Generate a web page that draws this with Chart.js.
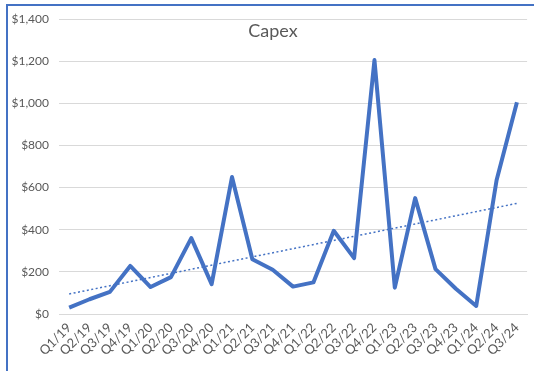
<!DOCTYPE html>
<html>
<head>
<meta charset="utf-8">
<script src="https://cdn.jsdelivr.net/npm/chart.js@4"></script>
<style>
  html, body { margin: 0; padding: 0; background: #fff; }
  #wrap { position: relative; width: 534px; height: 371px; }
  #frame {
    position: absolute; left: 6px; top: 4px; right: 0; bottom: 0;
    border-left: 2.5px solid #4472C4; border-top: 2.5px solid #4472C4;
    pointer-events: none;
  }
</style>
</head>
<body>
<div id="wrap">
  <canvas id="chartCapex" width="534" height="371"></canvas>
  <div id="frame"></div>
</div>
<script>
// datos
const quarters = [
  "Q1/19", "Q2/19", "Q3/19", "Q4/19",
  "Q1/20", "Q2/20", "Q3/20", "Q4/20",
  "Q1/21", "Q2/21", "Q3/21", "Q4/21",
  "Q1/22", "Q2/22", "Q3/22", "Q4/22",
  "Q1/23", "Q2/23", "Q3/23", "Q4/23",
  "Q1/24", "Q2/24", "Q3/24",
];
const capex = [
  30, 70, 105, 228,
  128, 175, 360, 142,
  650, 260, 210, 130,
  150, 395, 265, 1205,
  125, 550, 213, 120,
  38, 635, 1005,
];
const trendEnds = [95, 525];
const yTicks = [0, 200, 400, 600, 800, 1000, 1200, 1400];

const trend = quarters.map((_, i) =>
  i === 0 ? trendEnds[0] : i === quarters.length - 1 ? trendEnds[1] : null
);

const FONT = "Lato, 'Liberation Sans', sans-serif";
const GRAY = "#595959";
const BLUE = "#4472C4";

// titulo dentro del area del grafico (como Excel)
const titlePlugin = {
  id: "innerTitle",
  beforeDatasetsDraw(chart) {
    const { ctx } = chart;
    ctx.save();
    ctx.font = `18px ${FONT}`;
    ctx.fillStyle = GRAY;
    ctx.textAlign = "center";
    ctx.textBaseline = "middle";
    ctx.fillText("Capex", 273, 31);
    ctx.restore();
  },
};

new Chart(document.getElementById("chartCapex"), {
  type: "line",
  data: {
    labels: quarters,
    datasets: [
      {
        label: "Capex",
        data: capex,
        borderColor: BLUE,
        borderWidth: 4,
        pointRadius: 0,
        tension: 0,
        borderJoinStyle: "round",
      },
      {
        label: "Linear (Capex)",
        data: trend,
        spanGaps: true,
        borderColor: BLUE,
        borderWidth: 1.5,
        borderDash: [2, 2.5],
        pointRadius: 0,
      },
    ],
  },
  options: {
    responsive: false,
    animation: false,
    layout: { padding: { top: 19, right: 2, left: 0, bottom: 0 } },
    plugins: {
      legend: { display: false },
      title: { display: false },
      tooltip: { enabled: false },
    },
    scales: {
      x: {
        offset: true,
        grid: { display: false, drawTicks: false },
        border: { color: "#d9d9d9" },
        ticks: {
          color: GRAY,
          font: { family: FONT, size: 13 },
          minRotation: 45,
          maxRotation: 45,
          autoSkip: false,
          padding: 6,
        },
        afterFit: (s) => { s.height = 57; },
      },
      y: {
        min: 0,
        max: 1400,
        afterBuildTicks: (s) => { s.ticks = yTicks.map((v) => ({ value: v })); },
        grid: { color: "#d9d9d9", drawTicks: false },
        border: { display: false },
        ticks: {
          color: GRAY,
          font: { family: FONT, size: 12 },
          padding: 10,
          callback: (v) => "$" + Number(v).toLocaleString("en-US"),
        },
        afterFit: (s) => { s.width = 59; },
      },
    },
  },
  plugins: [titlePlugin],
});
</script>
</body>
</html>
